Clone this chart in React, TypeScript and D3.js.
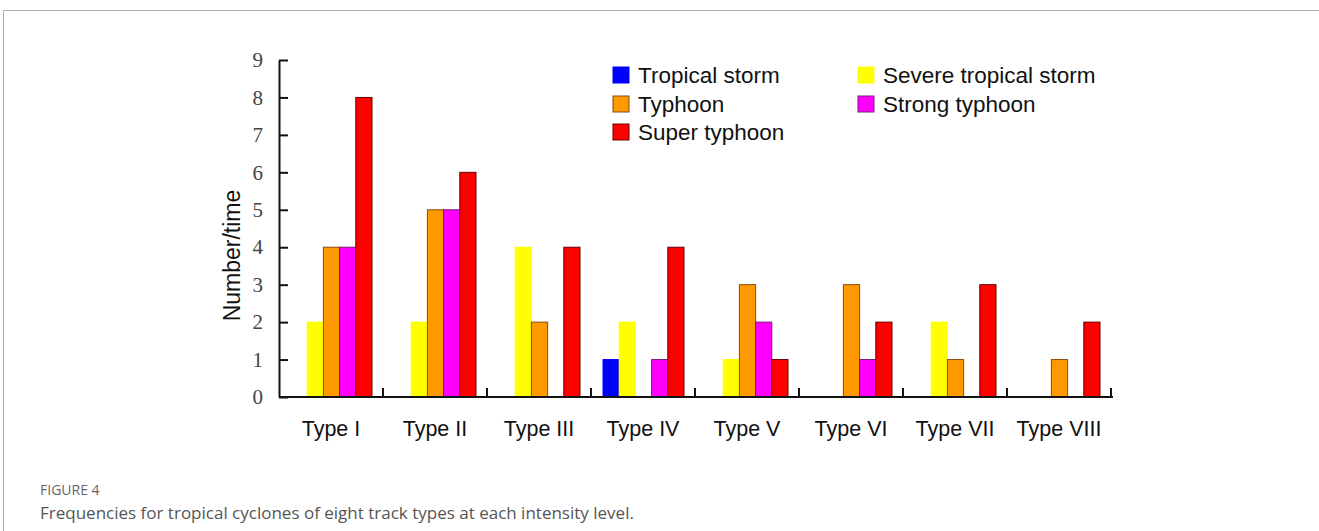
import React, { useEffect, useRef } from "react";
import * as d3 from "d3";

const types = ["Type I", "Type II", "Type III", "Type IV", "Type V", "Type VI", "Type VII", "Type VIII"];
const levels = ["Tropical storm", "Severe tropical storm", "Typhoon", "Strong typhoon", "Super typhoon"];

// counts per track type, one array per intensity level
const tropicalStorm = [0, 0, 0, 1, 0, 0, 0, 0];
const severeTropicalStorm = [2, 2, 4, 2, 1, 0, 2, 0];
const typhoon = [4, 5, 2, 0, 3, 3, 1, 1];
const strongTyphoon = [4, 5, 0, 1, 2, 1, 0, 0];
const superTyphoon = [8, 6, 4, 4, 1, 2, 3, 2];

const yTicks = [0, 1, 2, 3, 4, 5, 6, 7, 8, 9];

const fills = ["#0000ff", "#ffff00", "#ff9900", "#ff00ff", "#ff0000"];
const strokes = ["#0000ff", "#ffff00", "#8a4a10", "#7a1a7a", "#6a0000"];

export default function App() {
  const ref = useRef<SVGSVGElement>(null);

  useEffect(() => {
    const svg = d3.select(ref.current);
    svg.selectAll("*").remove();

    const series = [tropicalStorm, severeTropicalStorm, typhoon, strongTyphoon, superTyphoon];
    const rows = types.map((t, i) => ({
      type: t,
      values: levels.map((lv, j) => ({ level: lv, idx: j, value: series[j][i] })),
    }));

    const left = 279, right = 1111, top = 60, bottom = 397;

    // page frame
    svg.append("line").attr("x1", 3.5).attr("x2", 3.5).attr("y1", 11).attr("y2", 531)
      .attr("stroke", "#b0b0b0").attr("stroke-width", 1);
    svg.append("line").attr("x1", 3).attr("x2", 1319).attr("y1", 10.5).attr("y2", 10.5)
      .attr("stroke", "#b0b0b0").attr("stroke-width", 1);

    const x = d3.scaleBand().domain(types).range([left, right]).padding(0);
    const xInner = d3.scaleBand().domain(levels).range([12, x.bandwidth() - 11]).padding(0);
    const y = d3.scaleLinear().domain([0, 9]).range([bottom, top]);

    const groups = svg.selectAll(".grp").data(rows).join("g")
      .attr("class", "grp")
      .attr("transform", (d) => `translate(${x(d.type)},0)`);

    groups.selectAll("rect")
      .data((d) => d.values.filter((v) => v.value > 0))
      .join("rect")
      .attr("x", (d) => xInner(d.level) as number)
      .attr("y", (d) => y(d.value))
      .attr("width", xInner.bandwidth())
      .attr("height", (d) => y(0) - y(d.value))
      .attr("fill", (d) => fills[d.idx])
      .attr("stroke", (d) => strokes[d.idx])
      .attr("stroke-width", 1);

    // y axis
    const yAxis = svg.append("g")
      .attr("transform", `translate(${left},0)`)
      .call(d3.axisLeft(y).tickValues(yTicks).tickSizeInner(-9).tickSizeOuter(0).tickPadding(16));
    yAxis.selectAll("path, line").attr("stroke", "#111").attr("stroke-width", 2);
    yAxis.selectAll("text")
      .attr("fill", "#444")
      .style("font-family", "'Liberation Serif', 'DejaVu Serif', serif")
      .style("font-size", "21px");

    // x axis line with upward ticks at group boundaries
    svg.append("line").attr("x1", left).attr("x2", right + 2).attr("y1", bottom).attr("y2", bottom)
      .attr("stroke", "#111").attr("stroke-width", 2);
    svg.selectAll(".xtick").data(types).join("line")
      .attr("class", "xtick")
      .attr("x1", (d) => (x(d) as number) + x.bandwidth())
      .attr("x2", (d) => (x(d) as number) + x.bandwidth())
      .attr("y1", bottom).attr("y2", bottom - 9)
      .attr("stroke", "#111").attr("stroke-width", 2);

    svg.selectAll(".xlab").data(types).join("text")
      .attr("class", "xlab")
      .attr("x", (d) => (x(d) as number) + x.bandwidth() / 2)
      .attr("y", 436)
      .attr("text-anchor", "middle")
      .style("font-family", "'Liberation Sans', Arial, sans-serif")
      .style("font-size", "21.5px")
      .attr("fill", "#111")
      .text((d) => d);

    svg.append("text")
      .attr("transform", `translate(240, ${(top + bottom) / 2 + 27}) rotate(-90)`)
      .attr("text-anchor", "middle")
      .style("font-family", "'Liberation Sans', Arial, sans-serif")
      .style("font-size", "23px")
      .attr("fill", "#111")
      .text("Number/time");

    // legend
    const legendPos = [
      [613, 67], [858, 67], [613, 96], [858, 96], [613, 124],
    ];
    const leg = svg.selectAll(".leg").data(levels).join("g")
      .attr("class", "leg")
      .attr("transform", (d, i) => `translate(${legendPos[i][0]},${legendPos[i][1]})`);
    leg.append("rect")
      .attr("width", 16).attr("height", 16)
      .attr("fill", (d, i) => fills[i])
      .attr("stroke", (d, i) => strokes[i]).attr("stroke-width", 1);
    leg.append("text")
      .attr("x", 25).attr("y", 16)
      .style("font-family", "'Liberation Sans', Arial, sans-serif")
      .style("font-size", "22.5px")
      .attr("fill", "#111")
      .text((d) => d);

    // caption
    svg.append("text")
      .attr("x", 40).attr("y", 495)
      .style("font-family", "'Open Sans', sans-serif")
      .style("font-size", "14px")
      .attr("fill", "#666")
      .text("FIGURE 4");
    svg.append("text")
      .attr("x", 40).attr("y", 519)
      .style("font-family", "'Open Sans', sans-serif")
      .style("font-size", "17px")
      .attr("fill", "#555")
      .text("Frequencies for tropical cyclones of eight track types at each intensity level.");
  }, []);

  return (
    <svg
      ref={ref}
      width={1319}
      height={531}
      style={{ position: "absolute", left: 0, top: 0, background: "#fff" }}
    />
  );
}
